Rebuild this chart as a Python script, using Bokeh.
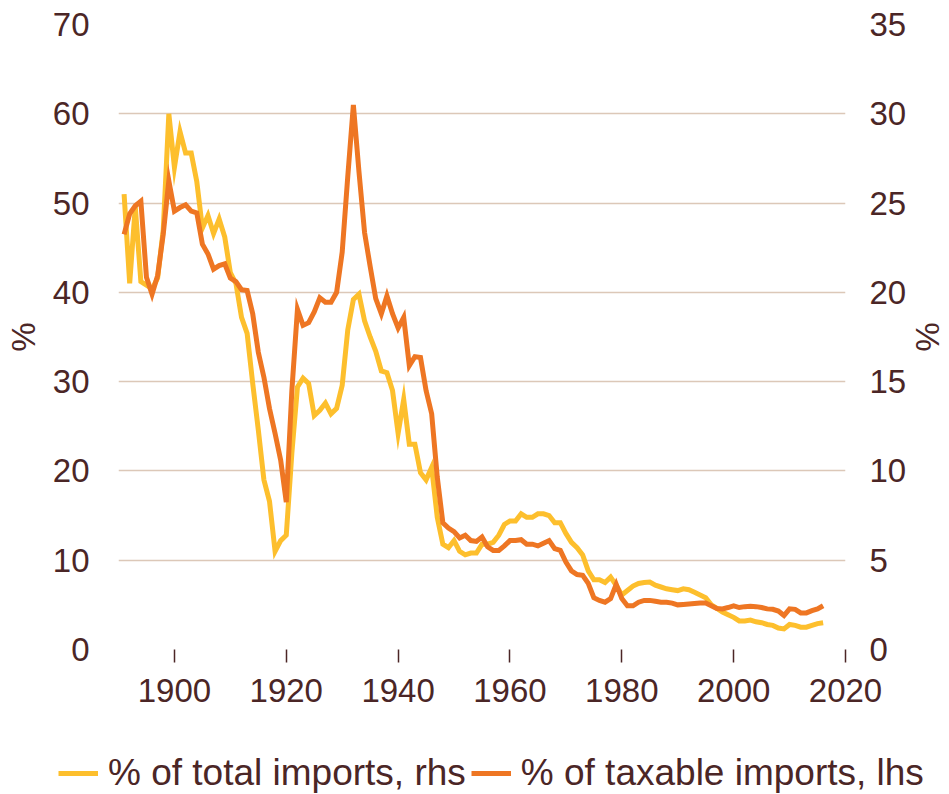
from bokeh.plotting import figure
from bokeh.layouts import column
from bokeh.models import (Range1d, LinearAxis, FixedTicker, Legend, LegendItem,
                          ColumnDataSource)
from bokeh.embed import file_html
from bokeh.resources import INLINE

years = list(range(1891, 2017))

taxable_lhs = [
    46.5, 48.8, 49.7, 50.2, 41.7, 39.8, 41.9, 46.5, 52.5,            # 1891-1899
    49.1, 49.5, 49.8, 49.1, 48.9, 45.4, 44.3, 42.6, 43.0, 43.2,      # 1900-1909
    41.6, 41.2, 40.3, 40.2, 37.6, 33.3, 30.5, 27.0, 24.2, 21.2,      # 1910-1919
    16.5, 29.0, 38.1, 36.3, 36.6, 37.8, 39.4, 38.9, 38.9, 40.0,      # 1920-1929
    44.5, 53.0, 61.0, 53.5, 46.7, 42.9, 39.3, 37.6, 39.6, 37.6,      # 1930-1939
    36.0, 37.2, 31.8, 32.8, 32.7, 29.0, 26.4, 19.3, 14.2, 13.6,      # 1940-1949
    13.2, 12.5, 12.8, 12.2, 12.1, 12.6, 11.5, 11.1, 11.1, 11.6,      # 1950-1959
    12.2, 12.2, 12.3, 11.8, 11.8, 11.6, 11.9, 12.2, 11.3, 11.1,      # 1960-1969
    9.8, 8.8, 8.4, 8.3, 7.4, 5.8, 5.5, 5.3, 5.7, 7.3,                # 1970-1979
    5.7, 4.9, 4.9, 5.3, 5.5, 5.5, 5.4, 5.3, 5.3, 5.2,                # 1980-1989
    5.0, 5.05, 5.1, 5.15, 5.2, 5.2, 4.9, 4.6, 4.55, 4.7,             # 1990-1999
    4.9, 4.7, 4.8, 4.85, 4.8, 4.7, 4.55, 4.5, 4.3, 3.8,              # 2000-2009
    4.55, 4.5, 4.1, 4.1, 4.35, 4.55, 4.9,                            # 2010-2016
]

total_rhs = [
    25.5, 20.5, 24.8, 20.6, 20.4, 20.2, 20.8, 23.5, 30.0,            # 1891-1899
    27.0, 29.0, 27.8, 27.8, 26.2, 23.6, 24.3, 23.3, 24.1, 23.1,      # 1900-1909
    21.1, 20.5, 18.6, 17.7, 14.9, 12.3, 9.5, 8.3, 5.5, 6.1,          # 1910-1919
    6.4, 11.0, 14.7, 15.2, 14.9, 13.1, 13.4, 13.8, 13.2, 13.5,       # 1920-1929
    14.8, 17.9, 19.6, 19.9, 18.4, 17.5, 16.7, 15.6, 15.5, 14.5,      # 1930-1939
    12.1, 14.0, 11.5, 11.5, 9.9, 9.5, 10.2, 7.4, 5.9, 5.7,           # 1940-1949
    6.1, 5.5, 5.3, 5.4, 5.4, 5.9, 5.9, 6.0, 6.4, 7.0,                # 1950-1959
    7.2, 7.2, 7.6, 7.4, 7.4, 7.6, 7.6, 7.5, 7.1, 7.1,                # 1960-1969
    6.5, 6.0, 5.7, 5.3, 4.4, 3.9, 3.9, 3.75, 4.05, 3.6,              # 1970-1979
    3.05, 3.3, 3.55, 3.7, 3.75, 3.78, 3.6, 3.5, 3.4, 3.35,           # 1980-1989
    3.3, 3.4, 3.35, 3.2, 3.05, 2.9, 2.5, 2.3, 2.1, 1.95,             # 1990-1999
    1.8, 1.6, 1.6, 1.65, 1.55, 1.5, 1.4, 1.35, 1.2, 1.15,            # 2000-2009
    1.4, 1.35, 1.25, 1.25, 1.35, 1.45, 1.5,                          # 2010-2016
]

series_labels = ["% of total imports, rhs", "% of taxable imports, lhs"]
x_ticks = [1900, 1920, 1940, 1960, 1980, 2000, 2020]
lhs_ticks = [0, 10, 20, 30, 40, 50, 60, 70]
rhs_ticks = [0, 5, 10, 15, 20, 25, 30, 35]

TEXT = "#4B2626"
GRID = "#DCC8B8"
YELLOW = "#FDBF2D"
ORANGE = "#EE7623"
FONT = "Liberation Sans"
LW = 5

src = ColumnDataSource(dict(year=years, taxable=taxable_lhs, total=total_rhs))

p = figure(width=949, height=722,
           x_range=Range1d(1890, 2020), y_range=Range1d(0, 70),
           output_backend="svg", toolbar_location=None,
           min_border_left=118, min_border_right=102,
           min_border_top=24, min_border_bottom=73)
p.frame_align = False
p.extra_y_ranges = {"rhs": Range1d(0, 35)}
p.outline_line_color = None
p.background_fill_color = "white"
p.border_fill_color = "white"

p.xgrid.grid_line_color = None
p.ygrid.grid_line_color = GRID
p.ygrid.grid_line_width = 1.5
p.ygrid.ticker = FixedTicker(ticks=lhs_ticks)

# x axis
xa = p.xaxis[0]
xa.ticker = FixedTicker(ticks=x_ticks)
xa.axis_line_color = None
xa.major_tick_in = 0
xa.major_tick_out = 13
xa.major_tick_line_color = TEXT
xa.major_tick_line_width = 1.5
xa.minor_tick_line_color = None
xa.major_label_text_font = FONT
xa.major_label_text_font_size = "33px"
xa.major_label_text_color = TEXT
xa.major_label_standoff = 16

# left axis
ya = p.yaxis[0]
ya.ticker = FixedTicker(ticks=lhs_ticks)
ya.axis_line_color = None
ya.major_tick_line_color = None
ya.minor_tick_line_color = None
ya.major_label_text_font = FONT
ya.major_label_text_font_size = "33px"
ya.major_label_text_color = TEXT
ya.major_label_standoff = 23
ya.axis_label = "%"
ya.axis_label_text_font = FONT
ya.axis_label_text_font_size = "33px"
ya.axis_label_text_font_style = "normal"
ya.axis_label_text_color = TEXT
ya.axis_label_standoff = 8

# right axis
ra = LinearAxis(y_range_name="rhs", ticker=FixedTicker(ticks=rhs_ticks))
ra.axis_line_color = None
ra.major_tick_line_color = None
ra.minor_tick_line_color = None
ra.major_label_text_font = FONT
ra.major_label_text_font_size = "33px"
ra.major_label_text_color = TEXT
ra.major_label_standoff = 18
ra.axis_label = "%"
ra.axis_label_text_font = FONT
ra.axis_label_text_font_size = "33px"
ra.axis_label_text_font_style = "normal"
ra.axis_label_text_color = TEXT
ra.axis_label_standoff = 0
p.add_layout(ra, "right")

p.line("year", "total", source=src, y_range_name="rhs",
       line_color=YELLOW, line_width=LW, line_join="miter")
p.line("year", "taxable", source=src,
       line_color=ORANGE, line_width=LW, line_join="miter")

# legend strip below the chart (its own frame covers the whole strip)
lg = figure(width=949, height=72, x_range=Range1d(0, 1), y_range=Range1d(0, 1),
            output_backend="svg", toolbar_location=None, min_border=0,
            x_axis_location=None, y_axis_location=None)
lg.frame_align = False
lg.grid.visible = False
lg.outline_line_color = None
lg.background_fill_color = "white"
lg.border_fill_color = "white"
# legend-key renderers: same series, lying outside this strip's range (not visible)
ly = lg.line("year", "total", source=src, line_color=YELLOW, line_width=LW)
lo = lg.line("year", "taxable", source=src, line_color=ORANGE, line_width=LW)

legend = Legend(items=[LegendItem(label=series_labels[0], renderers=[ly]),
                       LegendItem(label=series_labels[1], renderers=[lo])],
                orientation="horizontal", location=(58, 0))
legend.label_text_font = FONT
legend.label_text_font_size = "37px"
legend.label_text_color = TEXT
legend.glyph_width = 40
legend.glyph_height = 30
legend.label_height = 30
legend.label_standoff = 10
legend.spacing = 5
legend.padding = 0
legend.margin = 0
legend.border_line_alpha = 0
legend.background_fill_alpha = 0
lg.add_layout(legend, "center")

layout = column(p, lg, spacing=0)
open("out.html", "w").write(file_html(layout, INLINE))
